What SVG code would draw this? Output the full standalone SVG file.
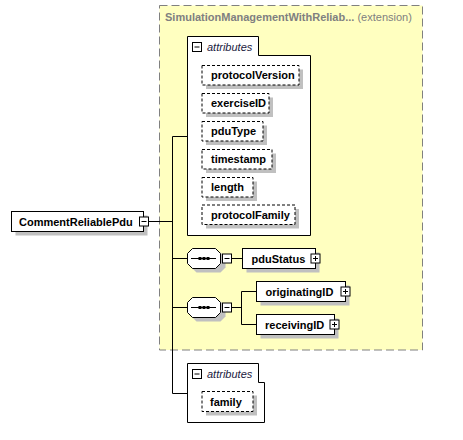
<svg xmlns="http://www.w3.org/2000/svg" width="463" height="440" viewBox="0 0 463 440">
<style>
text{font-family:"Liberation Sans",Arial,sans-serif;font-size:11px}
.n{font-weight:bold;fill:#000}
.box{fill:#fff;stroke:#000;stroke-width:1}
.dbox{fill:#fff;stroke:#000;stroke-width:1;stroke-dasharray:3,2}
.sh{fill:#c0c0c0}
.ln{stroke:#000;stroke-width:1;fill:none}
.sq{fill:#fff;stroke:#000;stroke-width:1}
.at{font-style:italic;fill:#202040}
</style>
<rect width="463" height="440" fill="#fff"/>
<g id="extension">
<rect x="159.5" y="5.5" width="263" height="344.5" fill="#ffffc0" stroke="#808080" stroke-width="1" stroke-dasharray="8,4"/>
<text x="165" y="21" fill="#808080"><tspan font-weight="bold">SimulationManagementWithReliab...</tspan> (extension)</text>
</g>
<g id="connectors">
<path class="ln" d="M148,221.5H172.5M172.5,136.5V393.5M172.5,136.5H187.5M172.5,258.5H187.5M172.5,307.5H187.5M172.5,393.5H187.5M231.5,258.5H242.5M231.5,307.5H241.5M241.5,291.5V324.5M241.5,291.5H256.5M241.5,324.5H256.5"/>
</g>
<g id="CommentReliablePdu">
<rect class="sh" x="15.5" y="215.5" width="132" height="20"/>
<rect class="box" x="11.5" y="211.5" width="132" height="20"/>
<text class="n" x="19" y="225.5">CommentReliablePdu</text>
<rect class="sq" x="139.5" y="217" width="9" height="9"/>
<path class="ln" d="M141.5,221.5H146.5"/>
</g>
<g id="attributes1">
<polygon class="box" points="187.5,36.5 258.5,36.5 258.5,55.5 310.5,55.5 310.5,235.5 187.5,235.5"/>
<rect class="sq" x="192.5" y="42.5" width="9" height="9"/>
<path class="ln" d="M194.5,47H199.5"/>
<text class="at" x="207" y="50.5">attributes</text>
</g>
<g id="protocolVersion">
<rect class="sh" x="206" y="69.5" width="97" height="19.5"/>
<rect class="dbox" x="202" y="65.5" width="97" height="19.5"/>
<text class="n" x="211" y="79">protocolVersion</text>
</g>
<g id="exerciseID">
<rect class="sh" x="206" y="97.5" width="67" height="19.5"/>
<rect class="dbox" x="202" y="93.5" width="67" height="19.5"/>
<text class="n" x="211" y="107">exerciseID</text>
</g>
<g id="pduType">
<rect class="sh" x="206" y="125.5" width="61" height="19.5"/>
<rect class="dbox" x="202" y="121.5" width="61" height="19.5"/>
<text class="n" x="211" y="135">pduType</text>
</g>
<g id="timestamp">
<rect class="sh" x="206" y="153.5" width="70" height="19.5"/>
<rect class="dbox" x="202" y="149.5" width="70" height="19.5"/>
<text class="n" x="211" y="163">timestamp</text>
</g>
<g id="length">
<rect class="sh" x="206" y="181.5" width="51" height="19.5"/>
<rect class="dbox" x="202" y="177.5" width="51" height="19.5"/>
<text class="n" x="211" y="191">length</text>
</g>
<g id="protocolFamily">
<rect class="sh" x="206" y="209" width="93" height="19.5"/>
<rect class="dbox" x="202" y="205" width="93" height="19.5"/>
<text class="n" x="211" y="218.5">protocolFamily</text>
</g>
<g id="sequence1">
<path class="sh" d="M196.5,252.5H220.5L225.5,257.5V267.5L220.5,272.5H196.5L191.5,267.5V257.5Z"/>
<path class="box" d="M192.5,248.5H215.5L220.5,253.5V263.5L215.5,268.5H192.5L187.5,263.5V253.5Z"/>
<path class="ln" d="M191,258.5H216"/>
<rect x="198.5" y="257" width="3" height="3" fill="#000"/>
<rect x="202.5" y="257" width="3" height="3" fill="#000"/>
<rect x="206.5" y="257" width="3" height="3" fill="#000"/>
<rect class="sq" x="222.5" y="254" width="9" height="9"/>
<path class="ln" d="M224.5,258.5H229.5"/>
</g>
<g id="pduStatus">
<rect class="sh" x="246.5" y="252.5" width="73" height="20"/>
<rect class="box" x="242.5" y="248.5" width="73" height="20"/>
<text class="n" x="251.5" y="262.5">pduStatus</text>
<rect class="sq" x="311" y="254" width="9" height="9"/>
<path class="ln" d="M313,258.5H318M315.5,256V261"/>
</g>
<g id="sequence2">
<path class="sh" d="M196.5,301.5H220.5L225.5,306.5V316.5L220.5,321.5H196.5L191.5,316.5V306.5Z"/>
<path class="box" d="M192.5,297.5H215.5L220.5,302.5V312.5L215.5,317.5H192.5L187.5,312.5V302.5Z"/>
<path class="ln" d="M191,307.5H216"/>
<rect x="198.5" y="306" width="3" height="3" fill="#000"/>
<rect x="202.5" y="306" width="3" height="3" fill="#000"/>
<rect x="206.5" y="306" width="3" height="3" fill="#000"/>
<rect class="sq" x="222.5" y="303" width="9" height="9"/>
<path class="ln" d="M224.5,307.5H229.5"/>
</g>
<g id="originatingID">
<rect class="sh" x="260.5" y="285.5" width="89" height="20"/>
<rect class="box" x="256.5" y="281.5" width="89" height="20"/>
<text class="n" x="265.5" y="295.5">originatingID</text>
<rect class="sq" x="341" y="287" width="9" height="9"/>
<path class="ln" d="M343,291.5H348M345.5,289V294"/>
</g>
<g id="receivingID">
<rect class="sh" x="260.5" y="318.5" width="78" height="20"/>
<rect class="box" x="256.5" y="314.5" width="78" height="20"/>
<text class="n" x="265" y="328.5">receivingID</text>
<rect class="sq" x="330" y="320" width="9" height="9"/>
<path class="ln" d="M332,324.5H337M334.5,322V327"/>
</g>
<g id="attributes2">
<polygon class="box" points="187.5,363.5 258.5,363.5 258.5,382.5 264.5,382.5 264.5,422.5 187.5,422.5"/>
<rect class="sq" x="192.5" y="369.5" width="9" height="9"/>
<path class="ln" d="M194.5,374H199.5"/>
<text class="at" x="207" y="377.5">attributes</text>
</g>
<g id="family">
<rect class="sh" x="206" y="395.5" width="51" height="20"/>
<rect class="dbox" x="202" y="391.5" width="51" height="20"/>
<text class="n" x="210" y="405.5">family</text>
</g>
</svg>
